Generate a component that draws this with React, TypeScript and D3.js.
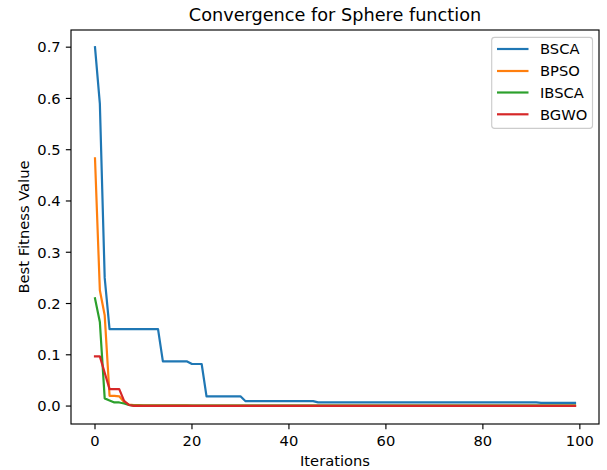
import React from "react";
import * as d3 from "d3";

const iterations: number[] = d3.range(0, 100);

const bsca: number[] = [
  0.70, 0.59, 0.25, 0.15, 0.15, 0.15, 0.15, 0.15, 0.15, 0.15,
  0.15, 0.15, 0.15, 0.15, 0.087, 0.087, 0.087, 0.087, 0.087, 0.087,
  0.082, 0.082, 0.082, 0.019, 0.019, 0.019, 0.019, 0.019, 0.019, 0.019,
  0.019, 0.0097, 0.0097, 0.0097, 0.0097, 0.0097, 0.0097, 0.0097, 0.0097, 0.0097,
  0.0097, 0.0097, 0.0097, 0.0097, 0.0097, 0.0097, 0.0072, 0.0072, 0.0072, 0.0072,
  0.0072, 0.0072, 0.0072, 0.0072, 0.0072, 0.0072, 0.0072, 0.0072, 0.0072, 0.0072,
  0.0072, 0.0072, 0.0072, 0.0072, 0.0072, 0.0072, 0.0072, 0.0072, 0.0072, 0.0072,
  0.0072, 0.0072, 0.0072, 0.0072, 0.0072, 0.0072, 0.0072, 0.0072, 0.0072, 0.0072,
  0.0072, 0.0072, 0.0072, 0.0072, 0.0072, 0.0072, 0.0072, 0.0072, 0.0072, 0.0072,
  0.0072, 0.0072, 0.0063, 0.0063, 0.0063, 0.0063, 0.0063, 0.0063, 0.0063, 0.0063,
];

const bpso: number[] = [
  0.483, 0.226, 0.177, 0.020, 0.020, 0.019, 0.008, 0.003, 0.002, 0.002,
  0.0015, 0.0015, 0.0015, 0.0015, 0.0015, 0.0015, 0.0015, 0.0015, 0.0015, 0.0015,
  0.001, 0.001, 0.001, 0.001, 0.001, 0.001, 0.001, 0.001, 0.001, 0.001,
  0.001, 0.001, 0.001, 0.001, 0.001, 0.001, 0.001, 0.001, 0.001, 0.001,
  0.001, 0.001, 0.001, 0.001, 0.001, 0.001, 0.001, 0.001, 0.001, 0.001,
  0.001, 0.001, 0.001, 0.001, 0.001, 0.001, 0.001, 0.001, 0.001, 0.001,
  0.001, 0.001, 0.001, 0.001, 0.001, 0.001, 0.001, 0.001, 0.001, 0.001,
  0.001, 0.001, 0.001, 0.001, 0.001, 0.001, 0.001, 0.001, 0.001, 0.001,
  0.001, 0.001, 0.001, 0.001, 0.001, 0.001, 0.001, 0.001, 0.001, 0.001,
  0.001, 0.001, 0.001, 0.001, 0.001, 0.001, 0.001, 0.001, 0.001, 0.001,
];

const ibsca: number[] = [
  0.21, 0.164, 0.015, 0.011, 0.007, 0.007, 0.005, 0.002, 0.001, 0.001,
  0.001, 0.001, 0.001, 0.001, 0.001, 0.001, 0.001, 0.001, 0.001, 0.001,
  0.001, 0.001, 0.001, 0.001, 0.001, 0.001, 0.001, 0.001, 0.001, 0.001,
  0.001, 0.001, 0.001, 0.001, 0.001, 0.001, 0.001, 0.001, 0.001, 0.001,
  0.001, 0.001, 0.001, 0.001, 0.001, 0.001, 0.001, 0.001, 0.001, 0.001,
  0.001, 0.001, 0.001, 0.001, 0.001, 0.001, 0.001, 0.001, 0.001, 0.001,
  0.001, 0.001, 0.001, 0.001, 0.001, 0.001, 0.001, 0.001, 0.001, 0.001,
  0.001, 0.001, 0.001, 0.001, 0.001, 0.001, 0.001, 0.001, 0.001, 0.001,
  0.001, 0.001, 0.001, 0.001, 0.001, 0.001, 0.001, 0.001, 0.001, 0.001,
  0.001, 0.001, 0.001, 0.001, 0.001, 0.001, 0.001, 0.001, 0.001, 0.001,
];

const bgwo: number[] = [
  0.097, 0.097, 0.065, 0.033, 0.033, 0.033, 0.010, 0.002, 0.0005, 0.0005,
  0.0005, 0.0005, 0.0005, 0.0005, 0.0005, 0.0005, 0.0005, 0.0005, 0.0005, 0.0005,
  0.0005, 0.0005, 0.0005, 0.0005, 0.0005, 0.0005, 0.0005, 0.0005, 0.0005, 0.0005,
  0.0005, 0.0005, 0.0005, 0.0005, 0.0005, 0.0005, 0.0005, 0.0005, 0.0005, 0.0005,
  0.0005, 0.0005, 0.0005, 0.0005, 0.0005, 0.0005, 0.0005, 0.0005, 0.0005, 0.0005,
  0.0005, 0.0005, 0.0005, 0.0005, 0.0005, 0.0005, 0.0005, 0.0005, 0.0005, 0.0005,
  0.0005, 0.0005, 0.0005, 0.0005, 0.0005, 0.0005, 0.0005, 0.0005, 0.0005, 0.0005,
  0.0005, 0.0005, 0.0005, 0.0005, 0.0005, 0.0005, 0.0005, 0.0005, 0.0005, 0.0005,
  0.0005, 0.0005, 0.0005, 0.0005, 0.0005, 0.0005, 0.0005, 0.0005, 0.0005, 0.0005,
  0.0005, 0.0005, 0.0005, 0.0005, 0.0005, 0.0005, 0.0005, 0.0005, 0.0005, 0.0005,
];

const seriesNames: string[] = ["BSCA", "BPSO", "IBSCA", "BGWO"];
const seriesValues: number[][] = [bsca, bpso, ibsca, bgwo];
const seriesColors: string[] = ["#1f77b4", "#ff7f0e", "#2ca02c", "#d62728"];

const xTicks: number[] = [0, 20, 40, 60, 80, 100];
const yTicks: number[] = [0.0, 0.1, 0.2, 0.3, 0.4, 0.5, 0.6, 0.7];

const titleText = "Convergence for Sphere function";
const xLabel = "Iterations";
const yLabel = "Best Fitness Value";

const W = 607;
const H = 470;
const L = 71;
const R = 599;
const T = 30;
const B = 424;
const FONT = "DejaVu Sans, sans-serif";
const FS = 14.7;
const TICK = 5.15;
const LW = 2.2;
const SPINE = 1.15;

export default function App() {
  const x = d3.scaleLinear().domain([-4.95, 103.95]).range([L, R]);
  const y = d3.scaleLinear().domain([-0.035, 0.7335]).range([B, T]);
  const line = d3
    .line<number>()
    .x((_, i) => x(iterations[i]))
    .y((d) => y(d));

  const legX = 491.7;
  const legY = 37.4;
  const legW = 100.8;
  const legH = 91;
  const rowY = [49, 71, 92.5, 114.3];

  return (
    <svg
      width={W}
      height={H}
      style={{ position: "absolute", left: 0, top: 0, background: "#fff" }}
      fontFamily={FONT}
    >
      <rect x={0} y={0} width={W} height={H} fill="#fff" />
      <defs>
        <clipPath id="plotclip">
          <rect x={L} y={T} width={R - L} height={B - T} />
        </clipPath>
      </defs>
      <g clipPath="url(#plotclip)">
        {seriesValues.map((vals, k) => (
          <path
            key={seriesNames[k]}
            d={line(vals) || ""}
            fill="none"
            stroke={seriesColors[k]}
            strokeWidth={LW}
            strokeLinejoin="round"
            strokeLinecap="square"
          />
        ))}
      </g>
      <rect x={L} y={T} width={R - L} height={B - T} fill="none" stroke="#000" strokeWidth={SPINE} />
      {xTicks.map((t) => (
        <g key={"x" + t}>
          <line x1={x(t)} x2={x(t)} y1={B} y2={B + TICK} stroke="#000" strokeWidth={SPINE} />
          <text x={x(t)} y={445.5} textAnchor="middle" fontSize={FS} fill="#000">
            {t}
          </text>
        </g>
      ))}
      {yTicks.map((t) => (
        <g key={"y" + t}>
          <line x1={L - TICK} x2={L} y1={y(t)} y2={y(t)} stroke="#000" strokeWidth={SPINE} />
          <text x={60.7} y={y(t)} dy="0.36em" textAnchor="end" fontSize={FS} fill="#000">
            {t.toFixed(1)}
          </text>
        </g>
      ))}
      <text x={(L + R) / 2} y={466} textAnchor="middle" fontSize={FS} fill="#000">
        {xLabel}
      </text>
      <text
        transform={`translate(28.5, ${(T + B) / 2}) rotate(-90)`}
        textAnchor="middle"
        fontSize={FS}
        fill="#000"
      >
        {yLabel}
      </text>
      <text x={(L + R) / 2} y={20.8} textAnchor="middle" fontSize={17.7} fill="#000">
        {titleText}
      </text>
      <rect
        x={legX}
        y={legY}
        width={legW}
        height={legH}
        rx={2.9}
        fill="#fff"
        fillOpacity={0.8}
        stroke="#cccccc"
        strokeWidth={SPINE}
      />
      {seriesNames.map((n, k) => (
        <g key={"leg" + n}>
          <line
            x1={497}
            x2={528.5}
            y1={rowY[k]}
            y2={rowY[k]}
            stroke={seriesColors[k]}
            strokeWidth={LW}
          />
          <text x={540} y={rowY[k]} dy="0.36em" fontSize={FS} fill="#000">
            {n}
          </text>
        </g>
      ))}
    </svg>
  );
}
